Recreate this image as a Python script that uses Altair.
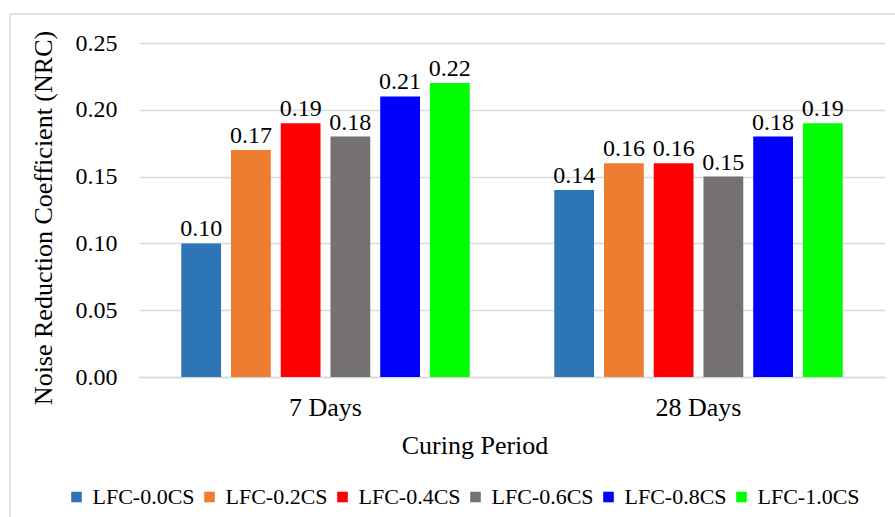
import altair as alt
import pandas as pd

# Curing periods, mixes and measured noise reduction coefficients
periods = ["7 Days", "28 Days"]
mixes = ["LFC-0.0CS", "LFC-0.2CS", "LFC-0.4CS", "LFC-0.6CS", "LFC-0.8CS", "LFC-1.0CS"]
nrc_7_days = [0.10, 0.17, 0.19, 0.18, 0.21, 0.22]
nrc_28_days = [0.14, 0.16, 0.16, 0.15, 0.18, 0.19]
mix_colors = ["#2e75b6", "#ed7d31", "#ff0000", "#767171", "#0000ff", "#00ff00"]

rows = []
for period, values in zip(periods, [nrc_7_days, nrc_28_days]):
    for mix, v in zip(mixes, values):
        rows.append({"period": period, "mix": mix, "nrc": v})
df = pd.DataFrame(rows)

FONT = "Times New Roman, Liberation Serif, serif"
GRID = "#d9d9d9"

x_enc = alt.X(
    "period:N",
    sort=periods,
    scale=alt.Scale(paddingInner=0.2, paddingOuter=0.1),
    axis=alt.Axis(
        title="Curing Period",
        labelAngle=0,
        labelFont=FONT,
        labelFontSize=26,
        labelColor="#000000",
        labelPadding=17,
        ticks=False,
        tickSize=0,
        domain=True,
        domainColor=GRID,
        domainWidth=1.4,
        titleFont=FONT,
        titleFontSize=26,
        titleFontWeight="normal",
        titleColor="#000000",
        titleX=335.5,
        titleY=76,
        titleAlign="center",
        titleBaseline="alphabetic",
    ),
)
xoff_enc = alt.XOffset(
    "mix:N", sort=mixes, scale=alt.Scale(paddingInner=0.2, paddingOuter=0.1)
)
y_enc = alt.Y(
    "nrc:Q",
    scale=alt.Scale(domain=[0, 0.25], nice=False),
    axis=alt.Axis(
        title="Noise Reduction Coefficient (NRC)",
        values=[0, 0.05, 0.10, 0.15, 0.20, 0.25],
        format=".2f",
        labelFont=FONT,
        labelFontSize=24,
        labelColor="#000000",
        labelPadding=22,
        ticks=False,
        tickSize=0,
        domain=False,
        grid=True,
        gridColor=GRID,
        gridWidth=1.4,
        titleFont=FONT,
        titleFontSize=26,
        titleFontWeight="normal",
        titleColor="#000000",
        titleX=-88,
        titleY=174.5,
        titleAlign="center",
        titleBaseline="alphabetic",
    ),
)

bars = alt.Chart(df).mark_bar().encode(
    x=x_enc,
    xOffset=xoff_enc,
    y=y_enc,
    color=alt.Color(
        "mix:N",
        sort=mixes,
        scale=alt.Scale(domain=mixes, range=mix_colors),
        legend=alt.Legend(
            title=None,
            orient="none",
            direction="horizontal",
            columns=6,
            legendX=-73.5,
            legendY=443,
            padding=0,
            symbolType="square",
            symbolSize=112,
            symbolStrokeWidth=0,
            labelFont=FONT,
            labelFontSize=22,
            labelColor="#000000",
            labelOffset=5,
            columnPadding=3,
            labelLimit=200,
        ),
    ),
)

labels = alt.Chart(df).mark_text(
    baseline="alphabetic", dy=-7, font=FONT, fontSize=24, color="#000000"
).encode(
    x=alt.X("period:N", sort=periods),
    xOffset=alt.XOffset("mix:N", sort=mixes),
    y="nrc:Q",
    text=alt.Text("nrc:Q", format=".2f"),
)

# Outer frame of the chart area (top and left edges)
frame_df = pd.DataFrame({"edge": [0]})
frame_top = alt.Chart(frame_df).mark_rule(color=GRID, strokeWidth=1.5).encode(
    x=alt.value(-129), x2=alt.value(760), y=alt.value(-29)
)
frame_left = alt.Chart(frame_df).mark_rule(color=GRID, strokeWidth=1.5).encode(
    x=alt.value(-129), y=alt.value(-29), y2=alt.value(480)
)

chart = (
    alt.layer(frame_top, frame_left, bars, labels)
    .properties(
        width=746,
        height=334,
        autosize=alt.AutoSizeParams(type="none"),
        padding={"left": 139, "top": 43, "right": 10, "bottom": 140},
        background="#ffffff",
    )
    .configure_view(strokeWidth=0)
)

chart.save("out.html", embed_options={"renderer": "svg", "actions": False})
